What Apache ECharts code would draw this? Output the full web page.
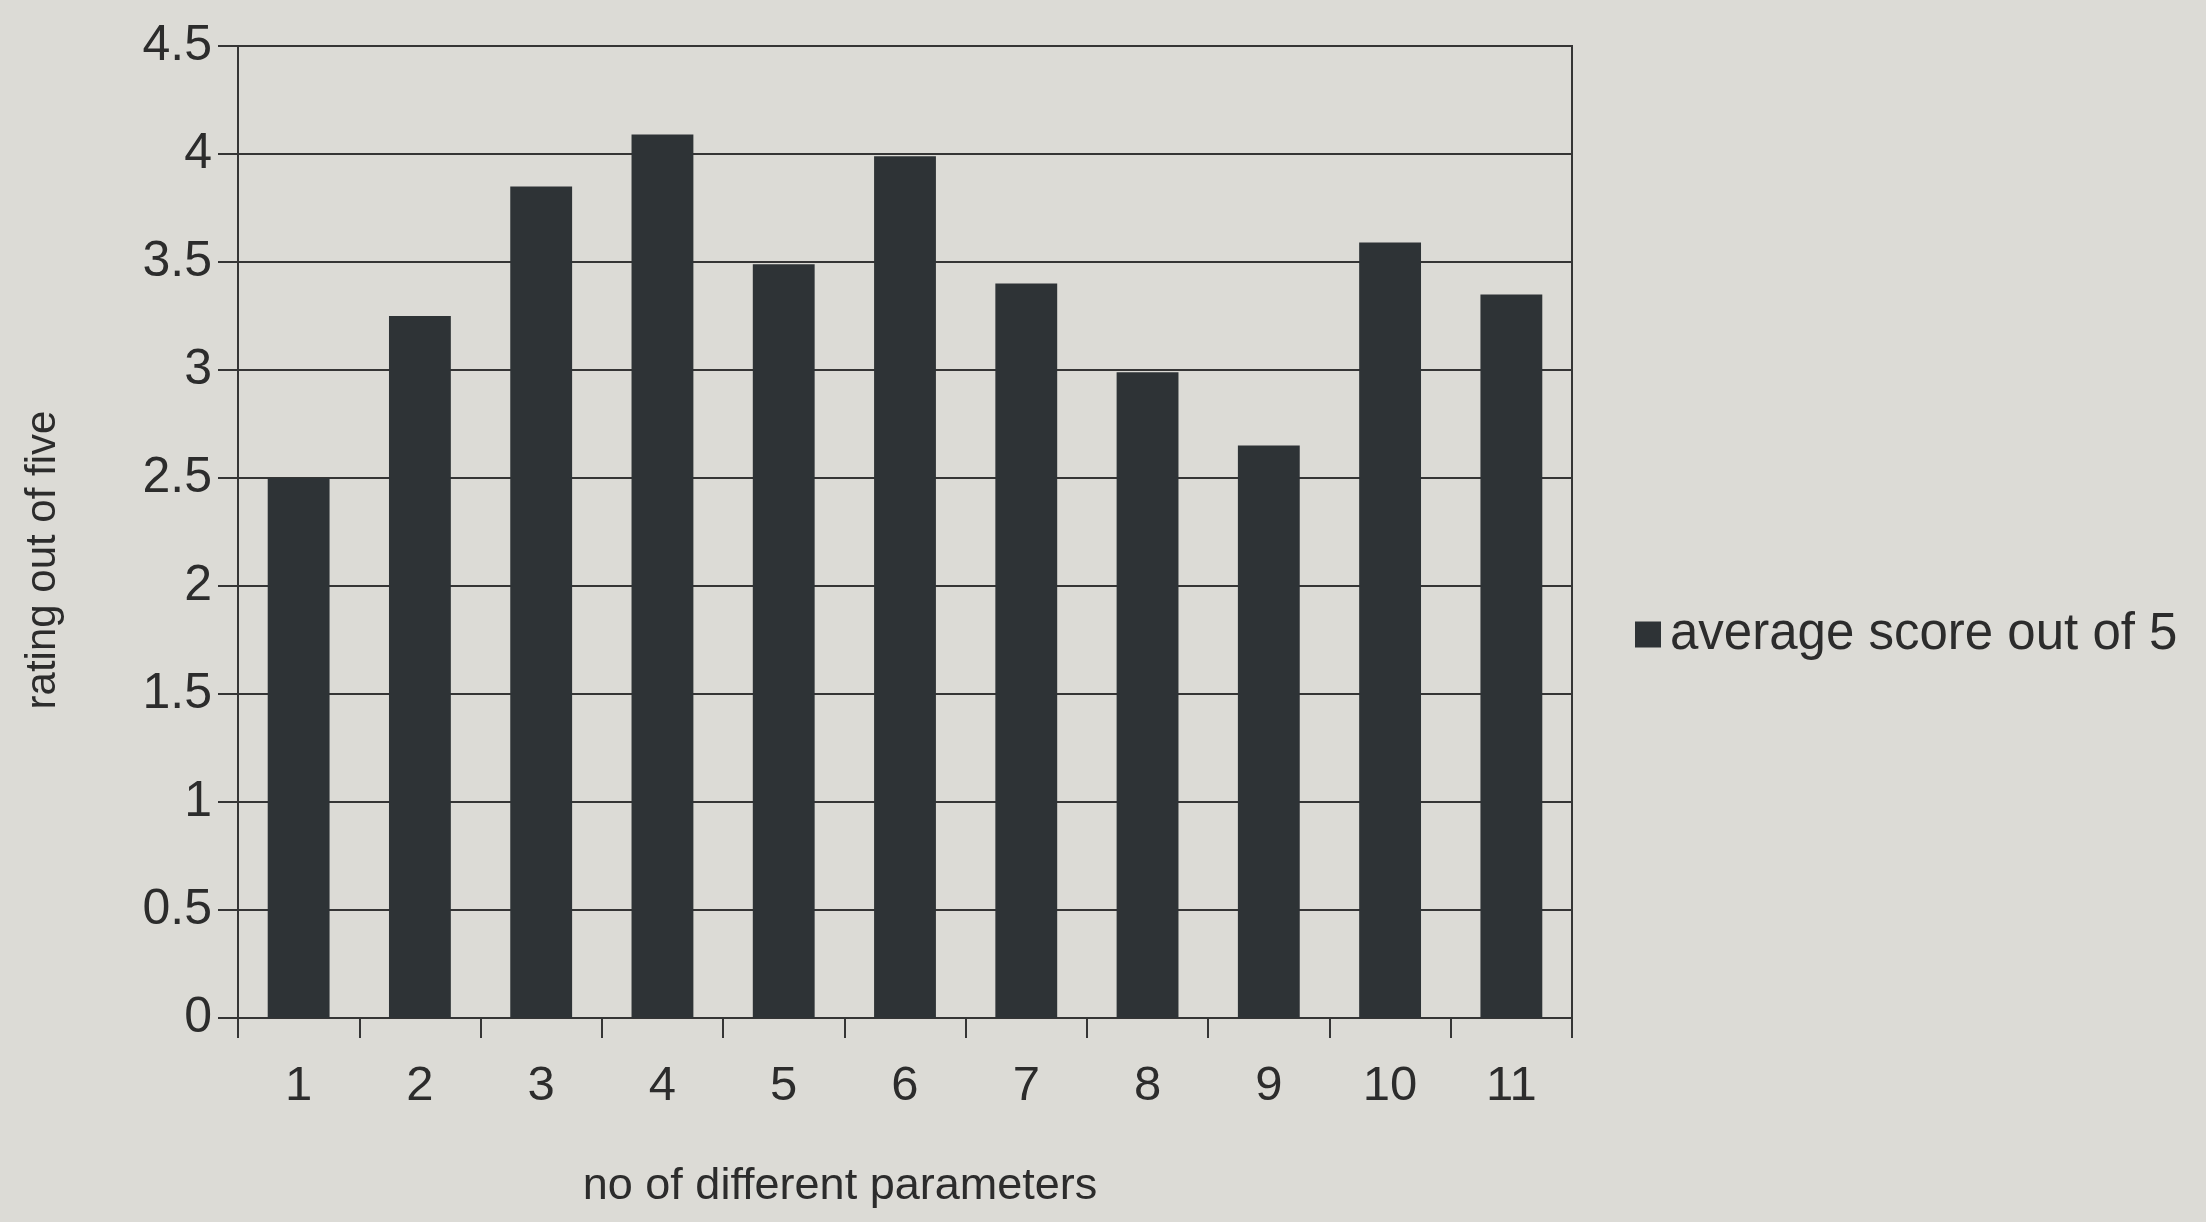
<!DOCTYPE html>
<html>
<head>
<meta charset="utf-8">
<script src="https://cdn.jsdelivr.net/npm/echarts@6/dist/echarts.min.js"></script>
<style>
  html, body { margin: 0; padding: 0; background: #dcdbd6; }
  #chart { width: 2206px; height: 1222px; }
</style>
</head>
<body>
<div id="chart"></div>
<script>
const categories = ['1', '2', '3', '4', '5', '6', '7', '8', '9', '10', '11'];
const averageScore = [2.50, 3.25, 3.85, 4.09, 3.49, 3.99, 3.40, 2.99, 2.65, 3.59, 3.35];
const seriesName = 'average score out of 5';
const xTitle = 'no of different parameters';
const yTitle = 'rating out of five';

const chart = echarts.init(document.getElementById('chart'));
const ink = '#353535';
const textInk = '#2c2c2c';
const font = '"Liberation Sans", Arial, sans-serif';

chart.setOption({
  backgroundColor: '#dcdbd6',
  animation: false,
  grid: {
    left: 238, right: 634, top: 46, bottom: 204,
    show: true, borderColor: ink, borderWidth: 2, backgroundColor: 'transparent'
  },
  legend: {
    left: 1630, top: 604,
    itemWidth: 26, itemHeight: 26, itemGap: 10,
    icon: 'rect',
    textStyle: { fontFamily: font, fontSize: 51, color: textInk, padding: [0, 0, 0, 4] },
    data: [seriesName]
  },
  xAxis: {
    type: 'category',
    data: categories,
    name: xTitle,
    nameLocation: 'middle',
    nameGap: 146,
    nameTextStyle: { fontFamily: font, fontSize: 45, color: textInk, padding: [0, 130, 0, 0] },
    axisLine: { lineStyle: { color: ink, width: 2 } },
    axisTick: { show: true, length: 20, lineStyle: { color: ink, width: 2 } },
    axisLabel: { fontFamily: font, fontSize: 49, color: textInk, margin: 44 }
  },
  yAxis: {
    type: 'value',
    min: 0, max: 4.5, interval: 0.5,
    name: yTitle,
    nameLocation: 'middle',
    nameGap: 174,
    nameTextStyle: { fontFamily: font, fontSize: 42, color: textInk, padding: [0, 56, 0, 0] },
    axisLine: { show: true, lineStyle: { color: ink, width: 2 } },
    axisTick: { show: true, length: 20, lineStyle: { color: ink, width: 2 } },
    axisLabel: { fontFamily: font, fontSize: 50, color: textInk, margin: 26 },
    splitLine: { show: true, lineStyle: { color: ink, width: 2 } }
  },
  series: [{
    name: seriesName,
    type: 'bar',
    data: averageScore,
    barWidth: '51%',
    itemStyle: { color: '#2e3336' }
  }]
});
</script>
</body>
</html>
